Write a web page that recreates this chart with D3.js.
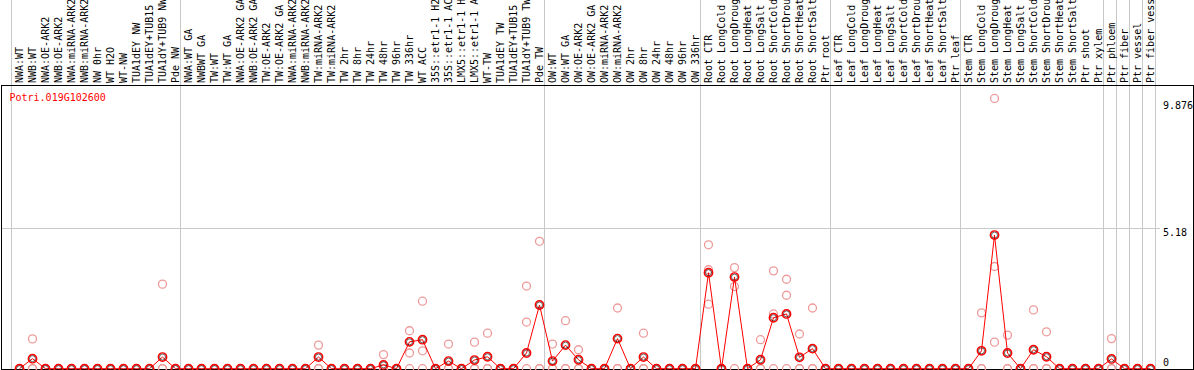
<!DOCTYPE html>
<meta charset="utf-8">
<style>
body {
  margin: 0;
  background: #fff;
}
text {
  font-family: "DejaVu Sans Mono", monospace;
  font-size: 10px;
}
.grid {
  stroke: #c8c8c8;
  stroke-width: 1;
  shape-rendering: crispEdges;
}
.frame {
  fill: none;
  stroke: #000;
  stroke-width: 1;
  shape-rendering: crispEdges;
}
</style>
<body>
<script src="https://cdn.jsdelivr.net/npm/d3@7"></script>
<script>

var width = 1194,
    height = 370;

var gene = "Potri.019G102600";

var samples = [
  "NWA:WT", "NWB:WT", "NWA:OE-ARK2", "NWB:OE-ARK2", "NWA:miRNA-ARK2", "NWB:miRNA-ARK2",
  "NW 0hr", "WT H2O", "WT-NW", "TUA1dEY NW", "TUA1dEY+TUB15", "TUA1dY+TUB9 NW", "Pde NW",
  "NWA:WT GA", "NWBWT GA", "TW:WT", "TW:WT GA", "NWA:OE-ARK2 GA", "NWB:OE-ARK2 GA",
  "TW:OE-ARK2", "TW:OE-ARK2 GA", "NWA:miRNA-ARK2", "NWB:miRNA-ARK2", "TW:miRNA-ARK2",
  "TW:miRNA-ARK2", "TW 2hr", "TW 8hr", "TW 24hr", "TW 48hr", "TW 96hr", "TW 336hr",
  "WT ACC", "35S::etr1-1 H2O", "35S::etr1-1 ACC", "LMX5::etr1-1 H2O", "LMX5::etr1-1 ACC",
  "WT-TW", "TUA1dEY TW", "TUA1dEY+TUB15", "TUA1dY+TUB9 TW", "Pde TW",
  "OW:WT", "OW:WT GA", "OW:OE-ARK2", "OW:OE-ARK2 GA", "OW:miRNA-ARK2", "OW:miRNA-ARK2",
  "OW 2hr", "OW 8hr", "OW 24hr", "OW 48hr", "OW 96hr", "OW 336hr",
  "Root CTR", "Root LongCold", "Root LongDrought", "Root LongHeat", "Root LongSalt",
  "Root ShortCold", "Root ShortDrought", "Root ShortHeat", "Root ShortSalt", "Ptr root",
  "Leaf CTR", "Leaf LongCold", "Leaf LongDrought", "Leaf LongHeat", "Leaf LongSalt",
  "Leaf ShortCold", "Leaf ShortDrought", "Leaf ShortHeat", "Leaf ShortSalt", "Ptr leaf",
  "Stem CTR", "Stem LongCold", "Stem LongDrought", "Stem LongHeat", "Stem LongSalt",
  "Stem ShortCold", "Stem ShortDrought", "Stem ShortHeat", "Stem ShortSalt", "Ptr shoot",
  "Ptr xylem", "Ptr phloem", "Ptr fiber", "Ptr vessel", "Ptr fiber vessel"
];

// index of the last sample of each group (-1 = line before the first one)
var groupEnds = [-1, 12, 40, 52, 62, 72, 83, 84, 85, 86, 87];

var meanExpr = [
  0, 0.37, 0, 0, 0, 0, 0, 0, 0, 0,
  0, 0.43, 0, 0, 0, 0, 0, 0, 0, 0,
  0, 0, 0, 0.43, 0, 0, 0, 0, 0.14, 0,
  0.99, 1.07, 0, 0.28, 0, 0.32, 0.44, 0, 0, 0.58,
  2.35, 0.28, 0.87, 0.33, 0, 0, 1.11, 0, 0.43, 0,
  0, 0, 0, 3.54, 0, 3.38, 0, 0.33, 1.88, 2.02,
  0.42, 0.74, 0, 0, 0, 0, 0, 0, 0, 0,
  0, 0, 0, 0, 0.66, 4.93, 0.58, 0, 0.70, 0.44,
  0, 0, 0, 0, 0.36, 0, 0, 0
];

var repA = [
  0, 1.10, 0, 0, 0, 0, 0, 0, 0, 0,
  0, 3.12, 0, 0, 0, 0, 0, 0, 0, 0,
  0, 0, 0, 0.87, 0, 0, 0, 0, 0.52, 0,
  1.40, 2.49, 0, 0.91, 0, 0.98, 1.31, 0, 0, 3.05,
  4.70, 0.91, 1.77, 0.70, 0, 0, 2.24, 0, 1.31, 0,
  0, 0, 0, 4.57, 0, 3.73, 0, 1.07, 3.61, 3.30,
  1.28, 2.24, 0, 0, 0, 0, 0, 0, 0, 0,
  0, 0, 0, 0, 2.06, 9.97, 1.24, 0, 2.17, 1.36,
  0, 0, 0, 0, 1.11, 0, 0, 0
];

var repB = [
  0, 0, 0, 0, 0, 0, 0, 0, 0, 0,
  0, 0, 0, 0, 0, 0, 0, 0, 0, 0,
  0, 0, 0, 0, 0, 0, 0, 0, 0, 0,
  0.58, 0.66, 0, 0, 0, 0, 0, 0, 0, 1.72,
  0, 0, 0, 0, 0, 0, 0, 0, 0, 0,
  0, 0, 0, 3.65, 0, 3.03, 0, 0, 2.02, 2.71,
  0, 0, 0, 0, 0, 0, 0, 0, 0, 0,
  0, 0, 0, 0, 0, 3.77, 0, 0, 0, 0,
  0, 0, 0, 0, 0, 0, 0, 0
];

var repC = [
  0, 0, 0, 0, 0, 0, 0, 0, 0, 0,
  0, 0, 0, 0, 0, 0, 0, 0, 0, 0,
  0, 0, 0, 0, 0, 0, 0, 0, 0, 0,
  0, 0, 0, 0, 0, 0, 0, 0, 0, 0,
  0, 0, 0, 0, 0, 0, 0, 0, 0, 0,
  0, 0, 0, 2.38, 0, 0, 0, 0, 0, 0,
  0, 0, 0, 0, 0, 0, 0, 0, 0, 0,
  0, 0, 0, 0, 0, 0.98, 0, 0, 0, 0,
  0, 0, 0, 0, 0, 0, 0, 0
];

var yTicks = [0, 5.18, 9.876];
var yGrid = [5.18];

var x = d3.scaleBand()
    .domain(d3.range(samples.length))
    .range([13, 13 + 13 * samples.length]);

var y = d3.scaleLinear()
    .domain([0, 9.876])
    .range([368.7, 101]);

function cx(i) { return x(i) + x.bandwidth() / 2; }

var svg = d3.select("body").append("svg")
    .attr("width", width)
    .attr("height", height);

// vertical group separators, full height
svg.selectAll(".vgrid")
    .data(groupEnds)
  .enter().append("line")
    .attr("class", "grid")
    .attr("x1", function(d) { return x(0) + x.step() * d + 11.5; })
    .attr("x2", function(d) { return x(0) + x.step() * d + 11.5; })
    .attr("y1", 0)
    .attr("y2", 369);

svg.selectAll(".hgrid")
    .data(yGrid)
  .enter().append("line")
    .attr("class", "grid")
    .attr("x1", 1)
    .attr("x2", 1160)
    .attr("y1", function(d) { return Math.round(y(d)) + 0.5; })
    .attr("y2", function(d) { return Math.round(y(d)) + 0.5; });

svg.append("rect")
    .attr("class", "frame")
    .attr("x", 1.5)
    .attr("y", 85.5)
    .attr("width", 1192)
    .attr("height", 284);

// sample names, rotated
svg.selectAll(".sample")
    .data(samples)
  .enter().append("text")
    .attr("class", "sample")
    .attr("transform", function(d, i) { return "translate(" + (cx(i) + 3.5) + ",83) rotate(-90)"; })
    .attr("fill", "#000")
    .text(function(d) { return d; });

svg.append("text")
    .attr("x", 9.5)
    .attr("y", 100.5)
    .attr("fill", "#ff0000")
    .text(gene);

svg.selectAll(".ytick")
    .data(yTicks)
  .enter().append("text")
    .attr("x", 1163)
    .attr("y", function(d) { return d === 0 ? y(d) - 3 : y(d) + 7.5; })
    .attr("fill", "#000")
    .text(function(d) { return d; });

// replicates
var reps = [];
[repA, repB, repC].forEach(function(r) {
  r.forEach(function(v, i) { reps.push({i: i, v: v}); });
});

svg.selectAll(".rep")
    .data(reps)
  .enter().append("circle")
    .attr("cx", function(d) { return cx(d.i); })
    .attr("cy", function(d) { return y(d.v); })
    .attr("r", 4)
    .attr("fill", "none")
    .attr("stroke", "#ee9a9a")
    .attr("stroke-width", 1.3);

var line = d3.line()
    .x(function(d, i) { return cx(i); })
    .y(function(d) { return y(d); });

svg.append("path")
    .datum(meanExpr)
    .attr("d", line)
    .attr("fill", "none")
    .attr("stroke", "#ff0000")
    .attr("stroke-width", 1);

var means = svg.selectAll(".mean")
    .data(meanExpr)
  .enter().append("g")
    .attr("transform", function(d, i) { return "translate(" + cx(i) + "," + y(d) + ")"; });

means.append("circle")
    .attr("r", 4.2)
    .attr("fill", "none")
    .attr("stroke", "#ff0000")
    .attr("stroke-width", 1.4);

means.append("circle")
    .attr("r", 3)
    .attr("fill", "none")
    .attr("stroke", "#000")
    .attr("stroke-width", 0.6);

</script>
